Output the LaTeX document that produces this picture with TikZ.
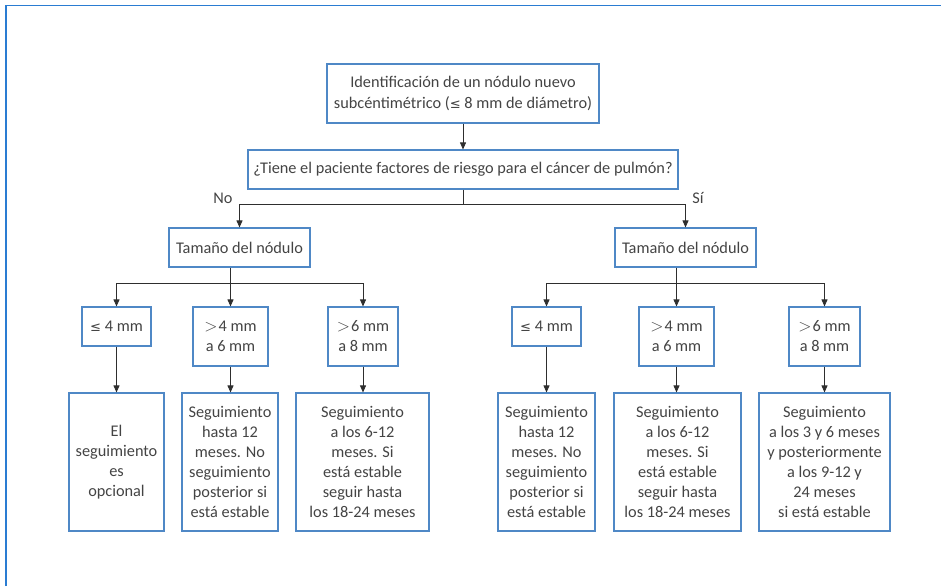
\documentclass[tikz,border=0pt]{standalone}
\usepackage{fontspec}
\setmainfont{Carlito}
\newfontfamily\symf{DejaVu Sans}[Scale=0.8]
\usetikzlibrary{arrows.meta}
\definecolor{boxblue}{HTML}{4F88C6}
\definecolor{frameblue}{HTML}{2A7CD2}
\definecolor{txt}{HTML}{444444}
\definecolor{conn}{HTML}{2E2E2E}
\newcommand{\lesym}{{\symf ≤}}
\newcommand{\gtsym}{$>$\kern1pt}
\begin{document}
\begin{tikzpicture}[x=1pt,y=-1pt,
  bx/.style={draw=boxblue,line width=1.1pt,fill=white,inner sep=0pt,align=center,text=txt,
    font=\fontsize{16.3}{20}\selectfont},
  lbl/.style={inner sep=0pt,text=txt,font=\fontsize{16.3}{20}\selectfont},
  ln/.style={draw=conn,line width=0.8pt},
  ar/.style={ln,-{Triangle[width=6pt,length=7pt]}}]
\useasboundingbox (0,0) rectangle (941,586);
\draw[frameblue,line width=1.8pt] (6,586) -- (6,5.5) -- (941,5.5);

\node[bx,minimum width=272pt,minimum height=59pt,font=\fontsize{16.3}{21.5}\selectfont] (top) at (463,93.5)
  {Identificación de un nódulo nuevo\\subcéntimétrico (\lesym{} 8 mm de diámetro)};
\node[bx,minimum width=430pt,minimum height=39pt] (q) at (463,169.5)
  {¿Tiene el paciente factores de riesgo para el cáncer de pulmón?};

\node[bx,minimum width=141pt,minimum height=39pt] (tl) at (239.5,247.5) {Tamaño del nódulo};
\node[bx,minimum width=141pt,minimum height=39pt] (tr) at (685.5,247.5) {Tamaño del nódulo};

\node[bx,minimum width=69pt,minimum height=39pt] (l1) at (116.5,326.5) {\lesym{} 4 mm};
\node[bx,minimum width=75pt,minimum height=59pt] (l2) at (230.5,336.5) {\gtsym4 mm\\a 6 mm};
\node[bx,minimum width=70pt,minimum height=59pt] (l3) at (363,336.5) {\gtsym6 mm\\a 8 mm};
\node[bx,minimum width=69pt,minimum height=39pt] (r1) at (546.5,326.5) {\lesym{} 4 mm};
\node[bx,minimum width=75pt,minimum height=59pt] (r2) at (676.5,336.5) {\gtsym4 mm\\a 6 mm};
\node[bx,minimum width=71pt,minimum height=59pt] (r3) at (824.5,336.5) {\gtsym6 mm\\a 8 mm};

\node[bx,minimum width=95pt,minimum height=138pt] (b1) at (116.5,462) {El\\seguimiento\\es\\opcional};
\node[bx,minimum width=96pt,minimum height=138pt] (b2) at (230,462) {Seguimiento\\hasta 12\\meses. No\\seguimiento\\posterior si\\está estable};
\node[bx,minimum width=133pt,minimum height=138pt] (b3) at (362.5,462) {Seguimiento\\a los 6-12\\meses. Si\\está estable\\seguir hasta\\los 18-24 meses};
\node[bx,minimum width=97pt,minimum height=138pt] (b4) at (546.5,462) {Seguimiento\\hasta 12\\meses. No\\seguimiento\\posterior si\\está estable};
\node[bx,minimum width=127pt,minimum height=138pt] (b5) at (677.5,462) {Seguimiento\\a los 6-12\\meses. Si\\está estable\\seguir hasta\\los 18-24 meses};
\node[bx,minimum width=131pt,minimum height=138pt] (b6) at (824.5,462) {Seguimiento\\a los 3 y 6 meses\\y posteriormente\\a los 9-12 y\\24 meses\\si está estable};

\node[lbl] (no) at (223,198) {No};
\node[lbl] (si) at (698,198) {Sí};

% connectors
\draw[ar] (top) -- (q);
\coordinate (jn) at (463,204);
\coordinate (nc) at (239.5,204);
\coordinate (sc) at (685.5,204);
\draw[ln] (q) -- (jn);
\draw[ln] (nc) -- (sc);
\draw[ar] (nc) -- (tl);
\draw[ar] (sc) -- (tr);

\coordinate (lh) at (0,283);
\draw[ln] (tl.south -| l2) -- (l2 |- lh);
\draw[ln] (l1 |- lh) -- (l3 |- lh);
\draw[ar] (l1 |- lh) -- (l1);
\draw[ar] (l2 |- lh) -- (l2);
\draw[ar] (l3 |- lh) -- (l3);
\draw[ln] (tr.south -| r2) -- (r2 |- lh);
\draw[ln] (r1 |- lh) -- (r3 |- lh);
\draw[ar] (r1 |- lh) -- (r1);
\draw[ar] (r2 |- lh) -- (r2);
\draw[ar] (r3 |- lh) -- (r3);

\draw[ar] (l1) -- (b1);
\draw[ar] (l2) -- (l2 |- b2.north);
\draw[ar] (l3) -- (l3 |- b3.north);
\draw[ar] (r1) -- (r1 |- b4.north);
\draw[ar] (r2) -- (r2 |- b5.north);
\draw[ar] (r3) -- (b6);
\end{tikzpicture}
\end{document}
